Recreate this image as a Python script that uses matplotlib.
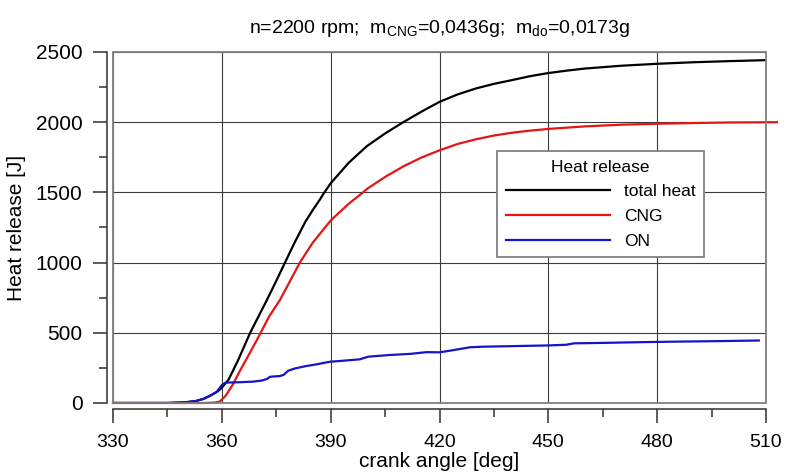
import matplotlib
matplotlib.use('Agg')
import matplotlib.pyplot as plt
from matplotlib.patches import Rectangle
from matplotlib.ticker import MultipleLocator

plt.rcParams['font.family'] = ['Liberation Sans', 'DejaVu Sans']
plt.rcParams['mathtext.fontset'] = 'custom'
plt.rcParams['mathtext.rm'] = 'Liberation Sans'

# total heat
total_angle = [330, 345, 350, 353, 355, 357, 359, 360, 361.8, 364.5, 367.8, 372.4, 375, 377.4,
               380, 383, 385, 387, 388, 390, 395, 400, 405, 410, 415, 420, 425, 430, 435, 440, 445,
               450, 455, 460, 470, 480, 490, 500, 510]
total_heat = [0, 0, 5, 15, 30, 55, 85, 110, 164, 306, 500, 733, 870, 1000,
              1140, 1290, 1372, 1448, 1490, 1565, 1712, 1830, 1920, 2000, 2075, 2145, 2198, 2240, 2273, 2300, 2328,
              2350, 2367, 2382, 2402, 2416, 2427, 2435, 2442]

# CNG
cng_angle = [330, 355, 358, 359.4, 361, 363, 365, 368, 370.7, 373, 376, 378, 381.5, 385,
             390, 395, 398.9, 400, 405, 410, 415, 420, 425, 430, 435, 440, 445, 450, 460,
             470, 480, 490, 500, 513]
cng_heat = [0, 0, 3, 10, 50, 130, 230, 370, 500, 615, 733, 830, 1000, 1140,
            1300, 1420, 1500, 1525, 1610, 1685, 1748, 1800, 1845, 1878, 1905, 1925, 1940, 1952, 1970,
            1982, 1989, 1994, 1998, 2000]

# ON (diesel pilot)
on_angle = [330, 345, 350, 353, 355, 357, 358.6, 360, 361, 365, 368.6, 371, 372.4, 373.3,
            376, 377, 378.3, 380, 383, 386, 389.8, 393, 398, 400.4, 406.4, 412, 416.4, 420,
            423, 428.4, 432, 440, 450, 455, 457, 465, 475, 485, 495, 508]
on_heat = [0, 0, 5, 15, 30, 55, 80, 128, 145, 148, 152, 160, 171, 187,
           192, 200, 230, 245, 262, 275, 294, 300, 311, 330, 342, 350, 362, 361,
           373, 397, 401, 405, 410, 415, 425, 428, 433, 437, 440, 445]

fig = plt.figure(figsize=(7.86, 4.74), dpi=100)
ax = fig.add_axes([0.1438, 0.1498, 0.8308, 0.7405])

ax.plot(total_angle, total_heat, color='black', linewidth=1.6, label='total heat', zorder=3)
ax.plot(cng_angle, cng_heat, color='#e41515', linewidth=1.6, label='CNG', zorder=3, clip_on=False)
ax.plot(on_angle, on_heat, color='#1414c8', linewidth=1.6, label='ON', zorder=4)

ax.set_xlim(330, 510)
ax.set_ylim(0, 2500)
ax.xaxis.set_major_locator(MultipleLocator(30))
ax.xaxis.set_minor_locator(MultipleLocator(15))
ax.yaxis.set_major_locator(MultipleLocator(500))
ax.yaxis.set_minor_locator(MultipleLocator(250))
ax.grid(True, which='major', color='#3c3c3c', linewidth=0.8)

# offset axes, Grapher style
for side in ['top', 'right']:
    ax.spines[side].set_visible(False)
ax.spines['left'].set_position(('outward', 4))
ax.spines['bottom'].set_position(('outward', 4))
for side in ['left', 'bottom']:
    ax.spines[side].set_color('#303030')
    ax.spines[side].set_linewidth(1.1)
ax.add_patch(Rectangle((0, 0), 1, 1, transform=ax.transAxes, fill=False,
                       edgecolor='#808080', linewidth=1.3, zorder=5, clip_on=False))

ax.tick_params(which='major', length=10, width=1.1, color='#303030', labelsize=14, pad=8)
ax.tick_params(axis='y', which='major', labelsize=15)
ax.tick_params(which='minor', length=6, width=1.1, color='#303030')

ax.set_xlabel('crank angle [deg]', fontsize=15, labelpad=1)
ax.set_ylabel('Heat release [J]', fontsize=15, labelpad=7)
ax.set_title(r'n=2200 rpm;  m$_{\mathregular{CNG}}$=0,0436g;  m$_{\mathregular{do}}$=0,0173g',
             fontsize=14, pad=14)

leg = ax.legend(title='Heat release', loc='upper left', bbox_to_anchor=(0.588, 0.718),
                borderaxespad=0, fontsize=12.5, title_fontsize=12.5, handlelength=6,
                fancybox=False, framealpha=1, edgecolor='#808080', labelspacing=0.55,
                borderpad=0.5)
leg.get_frame().set_linewidth(1.3)
leg.set_zorder(6)

fig.savefig('out.png', dpi=100)
